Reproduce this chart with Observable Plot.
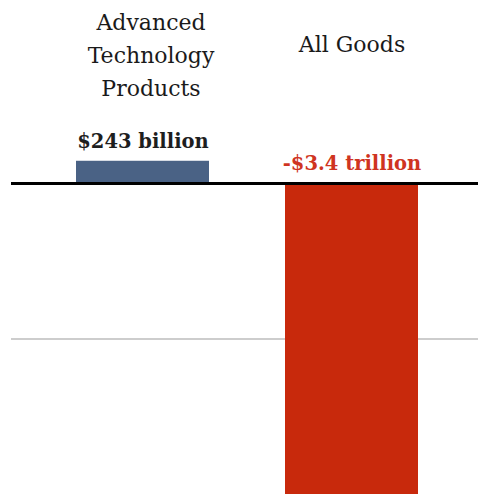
<!DOCTYPE html>
<html>
<head>
<meta charset="utf-8">
<script src="https://cdn.jsdelivr.net/npm/d3@7"></script>
<script src="https://cdn.jsdelivr.net/npm/@observablehq/plot@0.6"></script>
<style>
  html, body { margin: 0; padding: 0; background: #fff; }
  svg { display: block; }
</style>
</head>
<body>
<div id="chart"></div>
<script>
const categories = ["Advanced Technology Products", "All Goods"];
const headerLabels = ["Advanced\nTechnology\nProducts", "All Goods"];
const values = [243, -3400]; // billions of US dollars
const valueLabels = ["$243 billion", "-$3.4 trillion"];
const barColors = ["#4a6285", "#c8290c"];
const labelColors = ["#1e1e1e", "#cf3421"];
const gridValues = [-1700];

const data = categories.map((c, i) => ({
  category: c,
  header: headerLabels[i],
  value: values[i],
  label: valueLabels[i],
  barColor: barColors[i],
  labelColor: labelColors[i]
}));

const font = "DejaVu Serif";

const chart = Plot.plot({
  width: 478,
  height: 498,
  marginTop: 0,
  marginLeft: 11,
  marginRight: 0,
  marginBottom: 0,
  style: { fontFamily: font, background: "#fff" },
  x: { domain: categories, range: [11, 483], paddingInner: 0.362, paddingOuter: 0.305, axis: null },
  y: { domain: [-3400, 0], range: [494, 183], axis: null },
  color: { type: "identity" },
  marks: [
    Plot.ruleY(gridValues, { stroke: "#bdbdbd", strokeWidth: 1.5 }),
    Plot.barY(data, { x: "category", y: "value", fill: "barColor" }),
    Plot.ruleY([0], { stroke: "#000", strokeWidth: 3 }),
    Plot.text(data.filter((d, i) => i === 0), {
      x: "category", text: "header", frameAnchor: "top", lineAnchor: "middle",
      dy: 52, dx: 8, lineHeight: 1.5, fontSize: 22, fill: "#1a1a1a"
    }),
    Plot.text(data.filter((d, i) => i === 1), {
      x: "category", text: "header", frameAnchor: "top", lineAnchor: "middle",
      dy: 44, fontSize: 22, fill: "#1a1a1a"
    }),
    Plot.text(data, {
      x: "category", y: d => Math.max(d.value, 0), text: "label",
      lineAnchor: "middle", dy: -20, fontSize: 19.5, fontWeight: "bold", fill: "labelColor"
    })
  ]
});

document.getElementById("chart").appendChild(chart);
</script>
</body>
</html>
